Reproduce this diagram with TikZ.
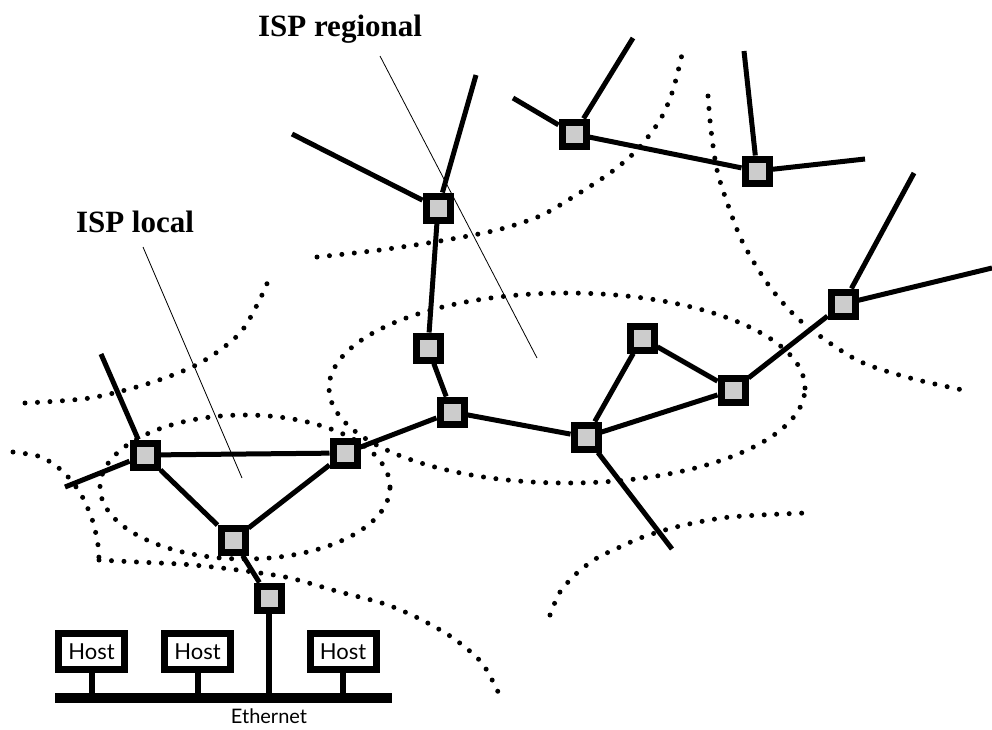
\documentclass[tikz,border=0pt]{standalone}
\usepackage{fontspec}
\setmainfont{Liberation Serif}
\newfontfamily\hostfont{Lato}
\usetikzlibrary{backgrounds}
\definecolor{rfill}{gray}{0.8}
\begin{document}
\begin{tikzpicture}[x=1pt,y=-1pt,
 router/.style={draw,line width=7pt,fill=rfill,minimum size=24pt,inner sep=0pt},
 link/.style={line width=5pt},
 stem/.style={line width=6pt},
 dotline/.style={line width=5pt,line cap=round,dash pattern=on 0pt off 12.5pt},
 leader/.style={line width=0.8pt},
 hostbox/.style={draw,line width=7pt,minimum width=66pt,minimum height=36pt,inner sep=0pt,font=\hostfont\fontsize{22}{22}\selectfont},
 isplabel/.style={font=\bfseries\fontsize{31}{31}\selectfont,anchor=base,inner sep=0pt}
]
\useasboundingbox (0,0) rectangle (992,729);

% routers
\node[router] (R1) at (438,208) {};
\node[router] (R2) at (428,348) {};
\node[router] (R3) at (452,412) {};
\node[router] (R4) at (586,437) {};
\node[router] (R5) at (642,338) {};
\node[router] (R6) at (733,390) {};
\node[router] (R7) at (843,304) {};
\node[router] (R8) at (574,134) {};
\node[router] (R9) at (757,171) {};
\node[router] (L1) at (145,455) {};
\node[router] (L2) at (345,453) {};
\node[router] (L3) at (233,540) {};
\node[router] (L4) at (269,598) {};

% free ends
\coordinate (e1) at (292,134);
\coordinate (e2) at (476,75);
\coordinate (e3) at (672,549);
\coordinate (e4) at (914,173);
\coordinate (e5) at (992,268);
\coordinate (e6) at (513,98);
\coordinate (e7) at (633,38);
\coordinate (e8) at (744,51);
\coordinate (e9) at (865,159);
\coordinate (e10) at (101,354);
\coordinate (e11) at (65,487);

% ethernet and hosts
\node[fill=black,minimum width=337pt,minimum height=10pt,inner sep=0pt] (eth) at (223.5,698) {};
\node[hostbox] (h1) at (91.5,651.5) {Host};
\node[hostbox] (h2) at (197.5,651.5) {Host};
\node[hostbox] (h3) at (343,651.5) {Host};
\node[font=\hostfont\fontsize{20}{20}\selectfont,inner sep=0pt,anchor=base] (ethl) at (269,723.5) {Ethernet};

% labels
\node[isplabel] (lreg) at (340,36) {ISP regional};
\node[isplabel] (lloc) at (135,232) {ISP local};
\coordinate (lr1) at (380,56);
\coordinate (lr2) at (537,358);
\coordinate (ll1) at (143,247);
\coordinate (ll2) at (242,478);

\begin{scope}[on background layer]
 \fill[white] (0,0) rectangle (992,729);
 % dotted boundaries
 \draw[dotline] plot[smooth] coordinates {(317,257) (380,250) (440,241) (497,230) (540,216) (573,197) (610,173) (637,150) (660,120) (673,90) (683,50)};
 \draw[dotline] plot[smooth] coordinates {(708,96) (711,130) (717,170) (728,205) (743,243) (770,287) (803,323) (857,360) (910,378) (963,390)};
 \draw[dotline] plot[smooth] coordinates {(25,403) (90,398) (150,383) (200,363) (240,333) (263,293) (268,280)};
 \draw[dotline] plot[smooth] coordinates {(13,452) (38,456) (55,465) (70,479) (83,498) (93,522) (98,545) (99,560)};
 \draw[dotline] plot[smooth] coordinates {(99,560) (137,562) (180,564) (213,567) (253,572) (290,578) (340,592) (385,604) (420,619) (453,638) (482,663) (500,696)};
 \draw[dotline] plot[smooth] coordinates {(550,615) (560,592) (577,573) (597,558) (620,547) (643,537) (680,526) (730,517) (805,513)};
 \draw[dotline] (245,487) ellipse [x radius=145pt, y radius=72pt];
 \draw[dotline] (567,388) ellipse [x radius=238pt, y radius=95pt];
 % links
 \draw[link] (R1) -- (e1);
 \draw[link] (R1) -- (e2);
 \draw[link] (R1) -- (R2);
 \draw[link] (R2) -- (R3);
 \draw[link] (R3) -- (R4);
 \draw[link] (R3) -- (L2);
 \draw[link] (R4) -- (R5);
 \draw[link] (R5) -- (R6);
 \draw[link] (R4) -- (R6);
 \draw[link] (R6) -- (R7);
 \draw[link] (R4) -- (e3);
 \draw[link] (R7) -- (e4);
 \draw[link] (R7) -- (e5);
 \draw[link] (R8) -- (e6);
 \draw[link] (R8) -- (e7);
 \draw[link] (R8) -- (R9);
 \draw[link] (R9) -- (e8);
 \draw[link] (R9) -- (e9);
 \draw[link] (L1) -- (L2);
 \draw[link] (L1) -- (L3);
 \draw[link] (L3) -- (L2);
 \draw[link] (L1) -- (e10);
 \draw[link] (L1) -- (e11);
 \draw[link] (L3) -- (L4);
 \draw[stem] (L4) -- (L4 |- eth.north);
 \draw[stem] (h1.south) -- (h1.south |- eth.north);
 \draw[stem] (h2.south) -- (h2.south |- eth.north);
 \draw[stem] (h3.south) -- (h3.south |- eth.north);
\end{scope}

% leader lines
\draw[leader] (lr1) -- (lr2);
\draw[leader] (ll1) -- (ll2);
\end{tikzpicture}
\end{document}
